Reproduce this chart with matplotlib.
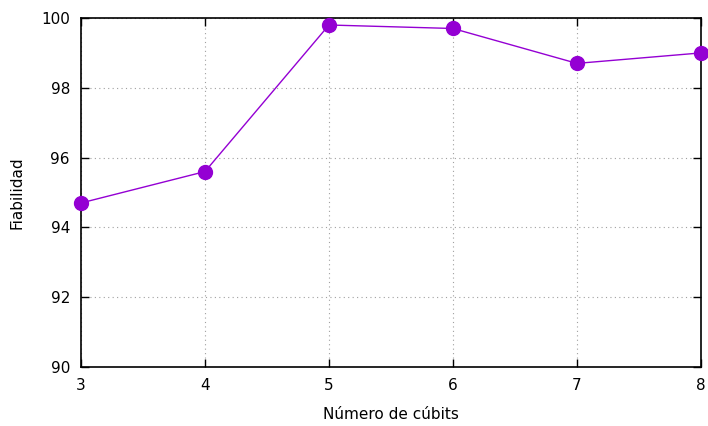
import matplotlib
matplotlib.use("Agg")
import matplotlib.pyplot as plt

plt.rcParams["font.family"] = "DejaVu Sans"
plt.rcParams["font.size"] = 11

# Data
cubits = [3, 4, 5, 6, 7, 8]
fiabilidad = [94.7, 95.6, 99.8, 99.7, 98.7, 99.0]

fig = plt.figure(figsize=(7.08, 4.26), dpi=100)
ax = fig.add_axes([0.1144, 0.1385, 0.8756, 0.8192])

ax.plot(cubits, fiabilidad, color="#9400D3", linewidth=1.0, marker="o",
        markersize=10, clip_on=False, zorder=3)

ax.set_xlim(3, 8)
ax.set_ylim(90, 100)
ax.set_xticks(cubits)
ax.set_yticks([90, 92, 94, 96, 98, 100])

ax.grid(True, color="#a0a0a0", linestyle=(0, (1, 3)), linewidth=0.8)
ax.tick_params(direction="in", top=True, right=True, length=6, width=1,
               pad=8)
for s in ax.spines.values():
    s.set_linewidth(1.2)

ax.set_xlabel("Número de cúbits", labelpad=10)
ax.set_ylabel("Fiabilidad", labelpad=12)

fig.savefig("out.png", dpi=100)
